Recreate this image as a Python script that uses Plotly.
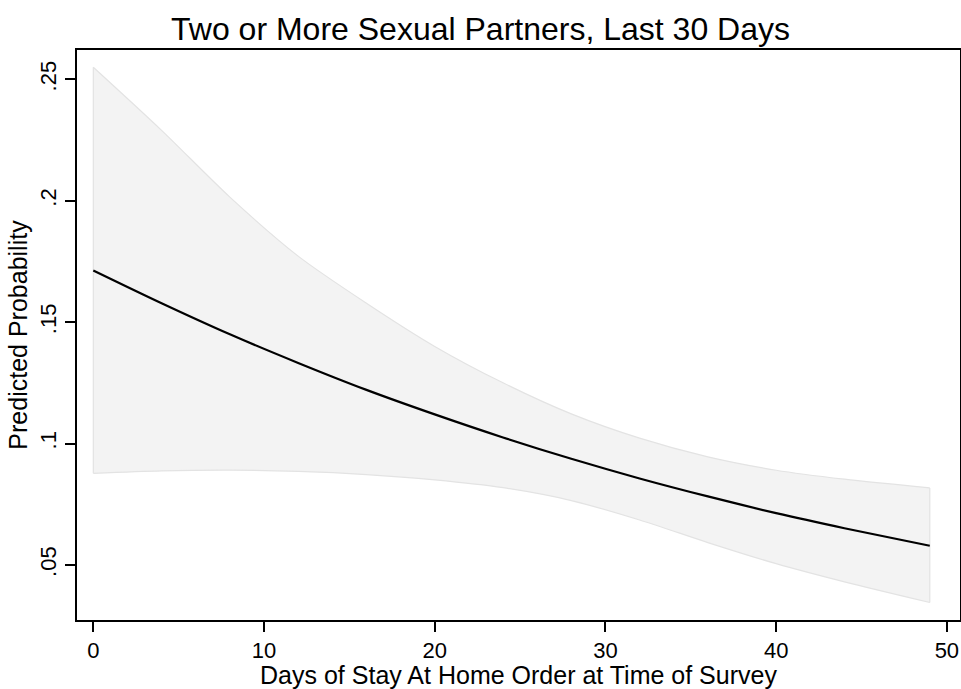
import plotly.graph_objects as go

# Predicted probability of two or more sexual partners by days of stay-at-home order
days = [0, 4, 8, 12, 16, 20, 24, 28, 32, 36, 40, 44, 49]
predicted = [0.1713, 0.1578, 0.1450, 0.1332, 0.1221, 0.1120, 0.1025,
             0.0937, 0.0856, 0.0782, 0.0713, 0.0651, 0.0579]
ci_upper = [0.2550, 0.2290, 0.2015, 0.1772, 0.1578, 0.1400, 0.1250,
            0.1122, 0.1022, 0.0945, 0.0890, 0.0853, 0.0817]
ci_lower = [0.0877, 0.0887, 0.0890, 0.0885, 0.0872, 0.0850, 0.0818,
            0.0765, 0.0685, 0.0592, 0.0505, 0.0430, 0.0345]

x_ticks = [0, 10, 20, 30, 40, 50]
y_ticks = [0.05, 0.10, 0.15, 0.20, 0.25]
y_tick_text = [".05", ".1", ".15", ".2", ".25"]

FONT = "Liberation Sans, Arial, Helvetica, sans-serif"
BAND_FILL = "#f3f3f3"
BAND_EDGE = "#e3e3e3"

fig = go.Figure()

# Confidence band: lower edge, then upper edge filled down to it
fig.add_trace(go.Scatter(
    x=days, y=ci_lower, mode="lines",
    line=dict(color=BAND_EDGE, width=1.2, shape="spline", smoothing=0.8),
    hoverinfo="skip", showlegend=False,
))
fig.add_trace(go.Scatter(
    x=days, y=ci_upper, mode="lines", fill="tonexty", fillcolor=BAND_FILL,
    line=dict(color=BAND_EDGE, width=1.2, shape="spline", smoothing=0.8),
    hoverinfo="skip", showlegend=False,
))
# Closing edges of the band at both ends
fig.add_trace(go.Scatter(
    x=[days[0], days[0], None, days[-1], days[-1]],
    y=[ci_lower[0], ci_upper[0], None, ci_lower[-1], ci_upper[-1]],
    mode="lines", line=dict(color=BAND_EDGE, width=1.2),
    hoverinfo="skip", showlegend=False,
))

# Predicted probability curve
fig.add_trace(go.Scatter(
    x=days, y=predicted, mode="lines",
    line=dict(color="black", width=2.2, shape="spline", smoothing=0.8),
    showlegend=False,
))

axis_common = dict(
    showline=True, mirror=True, linecolor="black", linewidth=1.5,
    ticks="outside", ticklen=10, tickwidth=1.5, tickcolor="black",
    showgrid=False, zeroline=False, automargin=False,
)

fig.update_layout(
    width=961, height=689,
    margin=dict(l=77, r=1, t=50, b=69),
    paper_bgcolor="white", plot_bgcolor="white",
    font=dict(family=FONT, color="black"),
    title=dict(
        text="Two or More Sexual Partners, Last 30 Days",
        x=0.5, xref="container", xanchor="center",
        y=1 - 29 / 689, yref="container", yanchor="middle",
        font=dict(size=32, family=FONT, color="black"),
    ),
    xaxis=dict(
        range=[-0.955, 50.77],
        tickvals=x_ticks,
        tickfont=dict(size=22),
        title=dict(text="Days of Stay At Home Order at Time of Survey",
                   font=dict(size=25), standoff=2),
        **axis_common,
    ),
    yaxis=dict(
        range=[0.0273, 0.2621],
        tickvals=y_ticks,
        ticktext=y_tick_text,
        tickangle=-90,
        tickfont=dict(size=22),
        title=dict(text="Predicted Probability", font=dict(size=25), standoff=2),
        **axis_common,
    ),
)

fig.write_html("out.html")
